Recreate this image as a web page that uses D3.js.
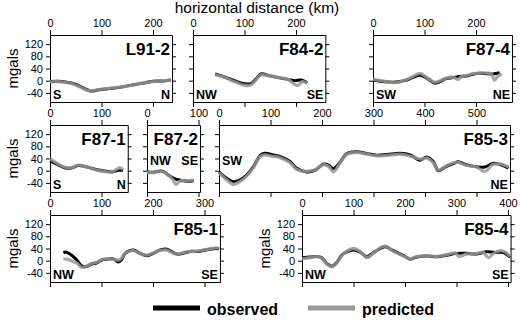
<!DOCTYPE html>
<html>
<head>
<meta charset="utf-8">
<script src="https://cdn.jsdelivr.net/npm/d3@7"></script>
<style>
  body { margin: 0; background: #fff; }
  text { font-family: "Liberation Sans", Arial, sans-serif; }
</style>
</head>
<body>
<div id="chart"></div>
<script>
// gravity profiles: [distance km, mgals]
const l912Obs = [[0,-3],[15,-2],[30,-4],[50,-12],[70,-28],[80,-34],[95,-30],[115,-26],[135,-22],[160,-14],[180,-8],[200,-2],[220,-1],[235,2]];
const l912Pred = [[0,-4],[15,-3],[30,-5],[50,-14],[70,-30],[80,-33],[95,-29],[115,-25],[135,-21],[160,-15],[180,-7],[200,-3],[220,0],[235,1]];

const f842Obs = [[43,22],[60,13],[85,-3],[100,-10],[112,-10],[122,5],[132,22],[145,18],[165,10],[185,4],[198,0],[210,2],[222,-7]];
const f842Pred = [[43,20],[60,12],[85,-6],[100,-15],[112,-14],[122,2],[132,19],[145,17],[165,11],[185,4],[195,-10],[203,-16],[212,-3],[222,-8]];

const f874Obs = [[0,2],[19,-3],[39,-5],[52,-3],[65,2],[78,11],[91,18],[100,12],[110,2],[120,-8],[129,-4],[142,7],[155,10],[168,14],[181,15],[194,21],[207,24],[220,23],[233,22],[246,26]];
const f874Pred = [[0,4],[19,-1],[39,-6],[52,-4],[65,4],[78,14],[91,24],[100,16],[110,4],[120,-5],[129,-1],[142,8],[155,12],[165,4],[172,14],[181,17],[194,23],[207,25],[220,25],[230,22],[236,2],[242,14],[250,22]];

const f871Obs = [[0,32],[10,24],[23,13],[32,8],[42,9],[55,17],[68,14],[81,8],[94,2],[107,-1],[120,-4],[133,1],[142,1]];
const f871Pred = [[0,40],[10,28],[23,15],[32,10],[42,10],[55,18],[68,14],[81,7],[94,0],[107,-3],[120,-5],[130,5],[136,10],[142,3]];

const f872Obs = [[0,-4],[13,-5],[26,-1],[32,-3],[41,-14],[52,-25],[61,-30],[71,-33],[81,-35],[91,-32]];
const f872Pred = [[0,-6],[13,-6],[26,-2],[32,-4],[41,-15],[50,-28],[56,-45],[62,-36],[71,-32],[81,-33],[91,-31]];

const f853Obs = [[0,-4],[15,-25],[28,-36],[41,-30],[54,-14],[67,13],[80,50],[89,57],[102,53],[115,48],[125,42],[138,30],[151,8],[170,-4],[187,2],[203,22],[213,18],[222,6],[235,28],[248,56],[268,62],[287,56],[307,51],[326,53],[352,57],[371,52],[390,34],[403,45],[416,30],[426,0],[439,12],[455,23],[465,29],[481,19],[500,13],[516,12],[532,24],[546,20],[562,8]];
const f853Pred = [[0,-6],[15,-30],[28,-45],[41,-35],[54,-17],[67,10],[80,47],[89,52],[102,48],[115,45],[125,38],[138,26],[151,4],[170,-2],[187,3],[203,20],[213,14],[222,-4],[235,25],[248,54],[268,60],[287,54],[307,49],[326,50],[352,54],[371,48],[385,40],[395,38],[403,42],[416,26],[426,2],[439,14],[455,26],[465,27],[481,17],[500,12],[516,-3],[532,20],[546,22],[562,12]];

const f851Obs = [[26,26],[32,28],[42,18],[52,2],[62,-18],[71,-19],[81,-11],[91,-7],[100,2],[110,5],[123,6],[133,-4],[139,3],[146,24],[162,35],[175,24],[188,16],[201,25],[214,35],[227,38],[240,26],[249,21],[262,26],[275,31],[288,30],[301,35],[314,38],[324,40],[328,38]];
const f851Pred = [[26,6],[32,5],[42,0],[52,-8],[62,-22],[71,-18],[81,-9],[91,-5],[100,3],[110,6],[123,5],[133,2],[139,8],[146,25],[162,33],[175,23],[188,18],[201,26],[214,34],[227,35],[240,24],[249,22],[262,28],[275,30],[288,32],[301,36],[314,40],[324,42],[328,40]];

const f854Obs = [[0,10],[16,12],[29,14],[38,10],[48,-9],[58,-18],[68,-5],[77,18],[87,29],[100,35],[113,28],[126,13],[139,27],[152,40],[162,46],[175,35],[188,24],[201,13],[210,5],[223,12],[243,15],[262,13],[281,18],[301,24],[320,24],[340,22],[359,29],[378,27],[391,27],[404,12]];
const f854Pred = [[0,6],[16,10],[29,13],[38,8],[48,-11],[58,-20],[68,-6],[77,16],[87,31],[100,40],[113,30],[126,10],[139,25],[152,43],[162,48],[175,33],[188,22],[201,12],[210,6],[223,14],[243,16],[262,14],[281,20],[298,25],[305,14],[320,22],[340,24],[352,28],[362,10],[372,24],[385,33],[395,28],[404,14]];

const yTicks = [-40, 0, 40, 80, 120];

const width = 520, height = 320;
const kmPx = 0.515;
const rowTop = [35, 125, 215];
const rowH = 67;

const panels = [
    {name: 'L91-2', row: 0, x0: 50, km: 237, obs: l912Obs, pred: l912Pred, dirs: ['S', 'N'], up: [false, false], yLab: true},
    {name: 'F84-2', row: 0, x0: 193, km: 257, obs: f842Obs, pred: f842Pred, dirs: ['NW', 'SE'], up: [false, false]},
    {name: 'F87-4', row: 0, x0: 373, km: 270, obs: f874Obs, pred: f874Pred, dirs: ['SW', 'NE'], up: [false, false]},
    {name: 'F87-1', row: 1, x0: 50, km: 151, obs: f871Obs, pred: f871Pred, dirs: ['S', 'N'], up: [false, false], yLab: true},
    {name: 'F87-2', row: 1, x0: 147, km: 103, obs: f872Obs, pred: f872Pred, dirs: ['NW', 'SE'], up: [true, true]},
    {name: 'F85-3', row: 1, x0: 219, km: 565, obs: f853Obs, pred: f853Pred, dirs: ['SW', 'NE'], up: [true, false]},
    {name: 'F85-1', row: 2, x0: 50, km: 330, obs: f851Obs, pred: f851Pred, dirs: ['NW', 'SE'], up: [false, false], yLab: true},
    {name: 'F85-4', row: 2, x0: 302, km: 405, obs: f854Obs, pred: f854Pred, dirs: ['NW', 'SE'], up: [false, false], yLab: true}
];

const svg = d3.select('#chart')
    .append('svg')
    .attr('width', width)
    .attr('height', height);

svg.append('text')
    .attr('x', 257)
    .attr('y', 13)
    .attr('text-anchor', 'middle')
    .attr('font-size', 15.5)
    .text('horizontal distance (km)');

function styleAxis(g) {
    g.attr('font-size', 11);
    g.selectAll('path, line').attr('stroke', '#000').attr('stroke-width', 1);
    g.selectAll('text').attr('fill', '#000');
}

panels.forEach(function (p) {
    const top = rowTop[p.row];
    const x = d3.scaleLinear().domain([0, p.km]).range([p.x0, p.x0 + p.km * kmPx]);
    const y = d3.scaleLinear().domain([-70, 150]).range([top + rowH, top]);
    const xTicks = d3.range(0, p.km + 1, 100);
    const x1 = x.range()[1];

    svg.append('g')
        .attr('transform', `translate(0,${top})`)
        .call(d3.axisTop(x).tickValues(xTicks).tickSize(5).tickSizeOuter(0).tickPadding(3).tickFormat(d => String(d)))
        .call(styleAxis);

    svg.append('g')
        .attr('transform', `translate(0,${top + rowH})`)
        .call(d3.axisBottom(x).tickValues(xTicks).tickSize(5).tickSizeOuter(0).tickFormat(''))
        .call(styleAxis);

    svg.append('g')
        .attr('transform', `translate(${p.x0},0)`)
        .call(d3.axisLeft(y).tickValues(yTicks).tickSize(4).tickSizeOuter(0).tickPadding(3)
            .tickFormat(p.yLab ? (d => String(d)) : ''))
        .call(styleAxis);

    svg.append('g')
        .attr('transform', `translate(${x1},0)`)
        .call(d3.axisRight(y).tickValues(yTicks).tickSize(4).tickSizeOuter(0).tickFormat(''))
        .call(styleAxis);

    if (p.yLab) {
        svg.append('text')
            .attr('transform', `translate(${p.x0 - 32},${top + rowH / 2}) rotate(-90)`)
            .attr('text-anchor', 'middle')
            .attr('font-size', 15)
            .text('mgals');
    }

    const line = d3.line()
        .curve(d3.curveCatmullRom.alpha(0.5))
        .x(d => x(d[0]))
        .y(d => y(d[1]));

    svg.append('path')
        .datum(p.obs)
        .attr('fill', 'none')
        .attr('stroke', '#000')
        .attr('stroke-width', 3)
        .attr('stroke-linejoin', 'round')
        .attr('d', line);

    svg.append('path')
        .datum(p.pred)
        .attr('fill', 'none')
        .attr('stroke', '#999')
        .attr('stroke-opacity', 0.85)
        .attr('stroke-width', 3.3)
        .attr('stroke-linejoin', 'round')
        .attr('d', line);

    svg.append('text')
        .attr('x', x1 - 2)
        .attr('y', top + 20)
        .attr('text-anchor', 'end')
        .attr('font-size', 17)
        .attr('font-weight', 'bold')
        .text(p.name);

    // direction labels
    svg.append('text')
        .attr('x', p.x0 + 3)
        .attr('y', p.up[0] ? top + 40 : top + rowH - 3)
        .attr('font-size', 12.5)
        .attr('font-weight', 'bold')
        .text(p.dirs[0]);

    svg.append('text')
        .attr('x', x1 - 2)
        .attr('y', p.up[1] ? top + 40 : top + rowH - 3)
        .attr('text-anchor', 'end')
        .attr('font-size', 12.5)
        .attr('font-weight', 'bold')
        .text(p.dirs[1]);
});

// legend
const legend = [
    {label: 'observed', color: '#000', x: 153},
    {label: 'predicted', color: '#999', x: 308}
];

legend.forEach(function (d) {
    svg.append('line')
        .attr('x1', d.x)
        .attr('x2', d.x + 47)
        .attr('y1', 308)
        .attr('y2', 308)
        .attr('stroke', d.color)
        .attr('stroke-width', 5);
    svg.append('text')
        .attr('x', d.x + 54)
        .attr('y', 315)
        .attr('font-size', 16)
        .attr('font-weight', 'bold')
        .text(d.label);
});
</script>
</body>
</html>
